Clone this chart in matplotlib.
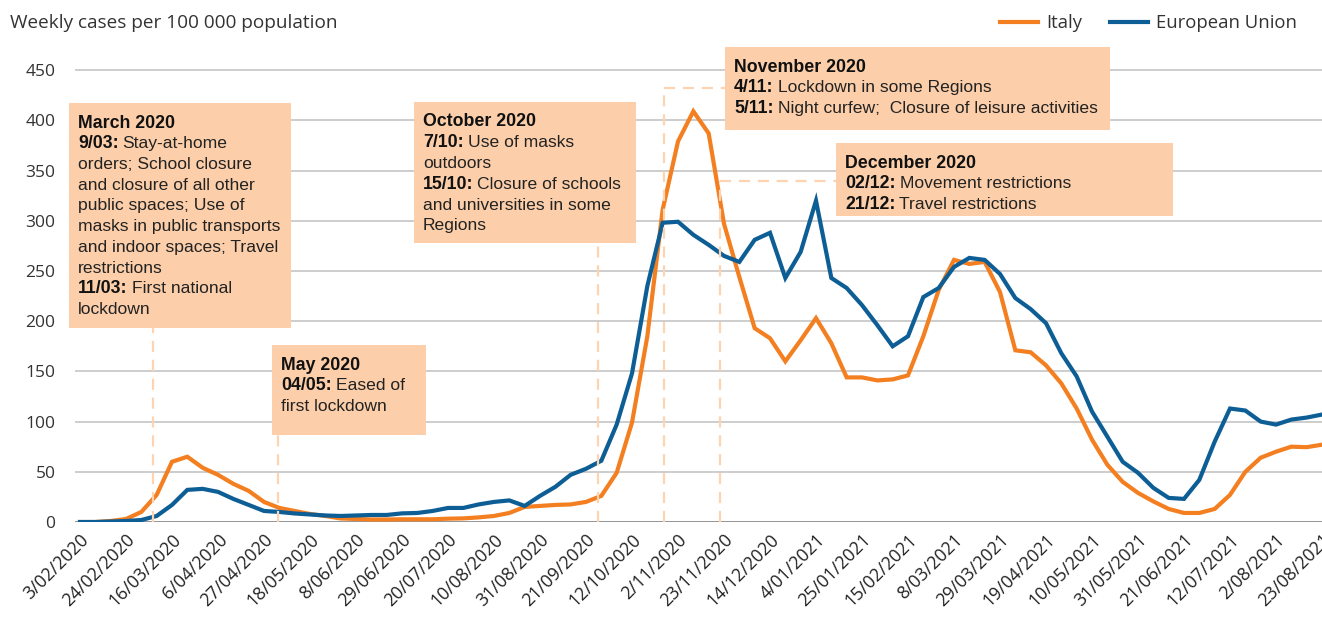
import matplotlib
matplotlib.use('Agg')
import matplotlib.pyplot as plt
from matplotlib.lines import Line2D
from matplotlib.patches import Rectangle

# weekly cases per 100 000, one value per week from 3/02/2020 to 23/08/2021
italy = [0, 0, 1, 3, 10, 27, 60, 65, 54, 47, 38, 31, 20, 14, 11, 8, 6, 3.5, 3, 2.5, 2.5,
         2.7, 2.7, 2.7, 3.3, 3.6, 4.6, 6, 9, 15, 16, 17, 17.5, 20, 26, 49, 99, 185, 311, 379, 409, 387,
         297, 244, 193, 183, 160, 181, 203, 178, 144, 144, 141, 142, 146, 185, 231, 261, 257, 259, 229, 171, 169,
         156, 138, 113, 82, 57, 40, 29, 20.5, 13, 9, 9, 13, 27, 50, 64, 70, 75, 74.5, 77]
eu = [0, 0, 0.5, 1, 2, 6, 17, 32, 33, 30, 23, 17, 11, 10, 8.5, 7.5, 6.5, 6, 6.5, 7, 7,
      8.6, 9, 11, 14, 14, 17.5, 20, 21.5, 16, 26, 35, 47, 53, 61, 97, 148, 235, 298, 299, 286, 276,
      265, 259, 281, 288, 243, 269, 320, 243, 233, 216, 196, 175, 185, 224, 233, 254, 263, 261, 247, 223, 212,
      198, 168, 145, 110, 85, 60, 49, 34, 24, 23, 42, 80, 113, 111, 100, 97, 102, 104, 107]
weeks = list(range(len(italy)))

tick_labels = ['3/02/2020', '24/02/2020', '16/03/2020', '6/04/2020', '27/04/2020', '18/05/2020',
               '8/06/2020', '29/06/2020', '20/07/2020', '10/08/2020', '31/08/2020', '21/09/2020',
               '12/10/2020', '2/11/2020', '23/11/2020', '14/12/2020', '4/01/2021', '25/01/2021',
               '15/02/2021', '8/03/2021', '29/03/2021', '19/04/2021', '10/05/2021', '31/05/2021',
               '21/06/2021', '12/07/2021', '2/08/2021', '23/08/2021']
y_ticks = [0, 50, 100, 150, 200, 250, 300, 350, 400, 450]

W, H = 1322, 618
ORANGE = '#F47F20'
BLUE = '#0E5E96'
PEACH = '#FCCFAA'
DASH = '#FDD3B2'
FONT = ['Open Sans', 'DejaVu Sans']
NOTE_FONT = ['Liberation Sans Narrow', 'Liberation Sans', 'DejaVu Sans']

fig = plt.figure(figsize=(W / 100, H / 100), dpi=100)
ax = fig.add_axes([75 / W, 1 - 522 / H, 1 - 75 / W, (522 - 40) / H])

ax.plot(weeks, italy, color=ORANGE, lw=3.0, solid_joinstyle='miter', zorder=3, label='Italy')
ax.plot(weeks, eu, color=BLUE, lw=3.0, solid_joinstyle='miter', zorder=4, label='European Union')

ax.set_xlim(-5 / 15.33, 81)
ax.set_ylim(0, 480)
ax.set_yticks(y_ticks)
ax.set_yticklabels([str(v) for v in y_ticks], family=FONT, fontsize=12.5, color='#333333')
ax.set_xticks(weeks[::3])
ax.set_xticklabels(tick_labels, rotation=45, ha='right', va='top', rotation_mode='anchor',
                   family=FONT, fontsize=12.8, color='#222222')
ax.tick_params(axis='both', length=0)
ax.tick_params(axis='y', pad=14)
ax.tick_params(axis='x', pad=6)
for s in ax.spines.values():
    s.set_visible(False)
for v in y_ticks[1:]:
    ax.axhline(v, color='#C0C0C0', lw=1.1, zorder=1)
ax.axhline(0, color='#8C8C8C', lw=1.3, zorder=2)

fig.text(10 / W, 1 - 23 / H, 'Weekly cases per 100 000 population', family=FONT,
         fontsize=13.7, color='#333333', va='center', ha='left')

ax.legend(loc='center right', bbox_to_anchor=(1306 / W, 1 - 23 / H), bbox_transform=fig.transFigure,
          ncol=2, frameon=False, borderpad=0, handlelength=2.1, handletextpad=0.4, columnspacing=1.5,
          prop={'family': FONT, 'size': 13.3}, labelcolor='#333333')


def px(x, y):
    return x / W, 1 - y / H


def dash(x0, y0, x1, y1):
    fig.lines.append(Line2D([x0 / W, x1 / W], [1 - y0 / H, 1 - y1 / H], transform=fig.transFigure,
                            color=DASH, lw=1.6, dashes=(5, 3.5), zorder=5))


renderer = fig.canvas.get_renderer()


def note(x0, y0, x1, y1, lines):
    fig.patches.append(Rectangle(px(x0, y1), (x1 - x0) / W, (y1 - y0) / H, transform=fig.transFigure,
                                 facecolor=PEACH, edgecolor='none', zorder=6))
    for k, (b, r) in enumerate(lines):
        yy = y0 + 20 + k * 20.75
        xx = x0 + 9
        if b:
            t = fig.text(*px(xx, yy), b, family=NOTE_FONT, weight='bold', fontsize=12.8,
                         color='#111111', va='center', ha='left', zorder=7)
            xx = t.get_window_extent(renderer).x1 + 4
        if r:
            fig.text(*px(xx, yy), r, family=NOTE_FONT, fontsize=12.6, color='#222222',
                     va='center', ha='left', zorder=7)


# connector lines from the events to the boxes
dash(153, 522, 153, 328)
dash(278, 522, 278, 435)
dash(598, 522, 598, 243)
dash(664, 522, 664, 88)
dash(664, 88, 725, 88)
dash(720, 522, 720, 181)
dash(720, 181, 836, 181)

note(69, 103, 291, 328, [('March 2020', ''), ('9/03:', 'Stay-at-home'), ('', 'orders; School closure'),
                         ('', 'and closure of all other'), ('', 'public spaces; Use of'),
                         ('', 'masks in public transports'), ('', 'and indoor spaces; Travel'),
                         ('', 'restrictions'), ('11/03:', 'First national'), ('', 'lockdown')])
note(272, 345, 426, 435, [('May 2020', ''), ('04/05:', 'Eased of'), ('', 'first lockdown')])
note(414, 102, 636, 243, [('October 2020', ''), ('7/10:', 'Use of masks'), ('', 'outdoors'),
                          ('15/10:', 'Closure of schools'), ('', 'and universities in some'), ('', 'Regions')])
note(725, 47, 1110, 130, [('November 2020', ''), ('4/11:', 'Lockdown in some Regions'),
                          ('5/11:', 'Night curfew;  Closure of leisure activities')])
note(836, 143, 1173, 216, [('December 2020', ''), ('02/12:', 'Movement restrictions'),
                           ('21/12:', 'Travel restrictions')])

fig.savefig('out.png', dpi=100)
